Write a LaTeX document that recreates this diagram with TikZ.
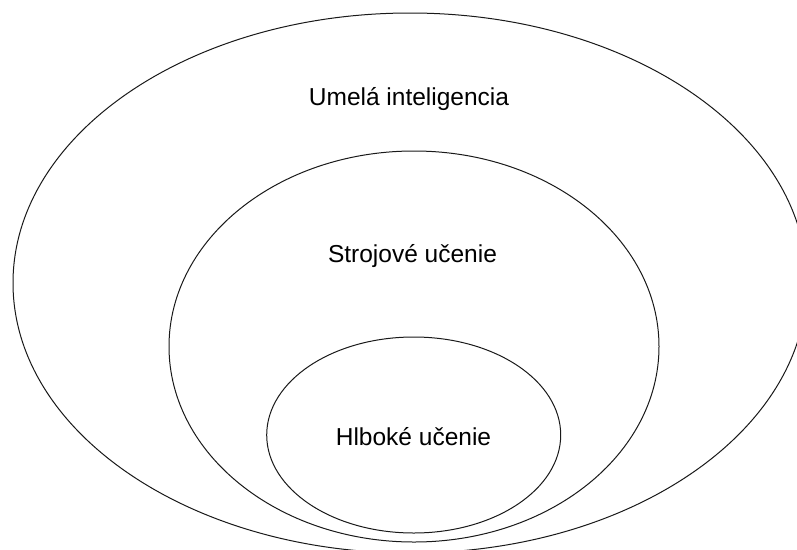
\documentclass[tikz,border=0pt]{standalone}
\usepackage{fontspec}
\setmainfont{Liberation Sans}
\begin{document}
\begin{tikzpicture}[x=1pt,y=-1pt,
  ring/.style={draw=black!90,line width=1pt},
  label/.style={anchor=base,inner sep=0pt,font=\fontsize{24.5}{28}\selectfont}]
\useasboundingbox (0,0) rectangle (797,549);
\begin{scope}
  \clip (0,0) rectangle (797,549);
  % nested sets
  \draw[ring] (410,283) ellipse [x radius=397, y radius=270];
  \draw[ring] (414,346.5) ellipse [x radius=245, y radius=195.5];
  \draw[ring] (413.7,435) ellipse [x radius=147, y radius=98];
\end{scope}
\node[label] (ai) at (409,105) {Umelá inteligencia};
\node[label] (ml) at (412.5,262) {Strojové učenie};
\node[label] (dl) at (413.5,445) {Hlboké učenie};
\end{tikzpicture}
\end{document}
